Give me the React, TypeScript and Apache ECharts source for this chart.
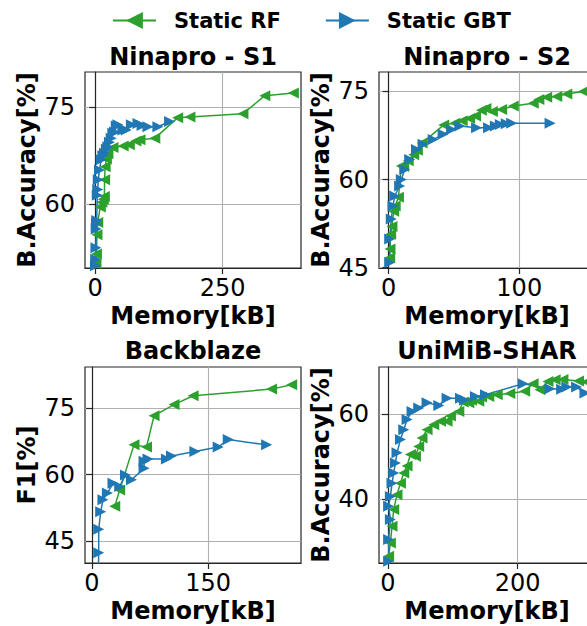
import React, { useEffect, useRef } from "react";
import * as echarts from "echarts";

// ---------- data (Memory [kB], score [%]) ----------
// Ninapro - S1
const s1RfMem = [1.5, 2.5, 3.5, 5, 10, 13, 16, 18, 18.5, 19.5, 22, 25, 35, 55, 67, 80, 88, 117, 162, 186, 290, 333, 389];
const s1RfAcc = [50.8, 52.3, 55.3, 57.2, 59.6, 60.3, 60.8, 61.2, 63.8, 65.8, 67.0, 67.8, 68.8, 69.0, 69.2, 69.8, 70.0, 70.2, 73.4, 73.5, 74.0, 76.8, 77.2];
const s1GbtMem = [0.5, 1, 1.5, 2, 2.5, 3, 4, 5, 6, 8.5, 11.8, 15, 18.3, 22, 24.8, 28, 31.4, 34.6, 38, 41.3, 44.5, 54.3, 61, 71, 84, 92, 103.5, 123, 146];
const s1GbtAcc = [50.5, 51.5, 53.3, 56.2, 57.0, 57.5, 61.4, 62.3, 63.8, 65.3, 66.9, 67.5, 67.9, 68.5, 68.9, 69.6, 70.2, 71.0, 71.2, 72.1, 72.3, 71.5, 71.5, 72.3, 72.5, 72.2, 72.0, 72.0, 72.8];

// Ninapro - S2
const s2RfMem = [0.8, 1.0, 1.5, 2.5, 3.8, 5.0, 7.5, 9.7, 11.5, 15.0, 19.2, 22.0, 25.6, 42.2, 50.6, 56.3, 62.0, 66.5, 71.0, 74.5, 79.4, 86.5, 95.4, 110.7, 115.0, 121.0, 128.7, 136.4, 149.0];
const s2RfAcc = [46.7, 48.2, 50.7, 52.0, 54.6, 55.5, 57.0, 62.3, 62.2, 63.2, 64.2, 65.0, 66.2, 69.3, 69.6, 70.0, 70.4, 70.8, 71.8, 72.1, 71.6, 71.9, 72.5, 73.0, 73.6, 74.0, 74.15, 74.55, 75.0];
const s2GbtMem = [0.8, 0.8, 2.0, 3.3, 4.6, 8.4, 9.7, 12.3, 16.1, 21.3, 26.4, 34.1, 41.7, 48.2, 54.5, 67.3, 76.5, 81.7, 85.5, 90, 94.2, 123.6];
const s2GbtAcc = [45.9, 49.9, 53.3, 55.5, 57.2, 58.9, 60.0, 61.7, 63.4, 65.1, 66.0, 66.8, 67.7, 68.5, 69.1, 68.8, 68.8, 69.1, 69.35, 69.5, 69.6, 69.6];

// Backblaze
const bbRfMem = [29.4, 35.8, 54.3, 70.4, 80.2, 106, 130.7, 232, 258];
const bbRfF1 = [52.8, 56.5, 66.7, 66.2, 73.3, 75.8, 77.8, 79.3, 80.3];
const bbGbtMem = [8, 8.7, 8.7, 11.3, 14.2, 19.9, 27.2, 35.8, 43.2, 51, 67.3, 67.3, 72.4, 96.2, 102.7, 132.9, 163, 176, 225.6];
const bbGbtF1 = [36, 42.3, 47.6, 51.6, 54.3, 55.8, 58.0, 57.3, 59.9, 58.8, 61.4, 63.0, 63.5, 63.5, 64.2, 65.2, 66.2, 67.9, 66.7];

// UniMiB-SHAR
const uniRfMem = [1, 3.7, 6.2, 8.8, 13.9, 19.2, 24.3, 29.4, 34.6, 42.3, 47.4, 52.5, 60.3, 70.6, 81, 91.2, 96.4, 109.3, 116, 124.7, 129, 140.2, 144.4, 155.6, 168.5, 188, 211, 224, 234.5, 247, 258, 270, 294, 306];
const uniRfAcc = [26.7, 29.8, 33.7, 37.6, 41.1, 43.8, 46.2, 47.8, 50.5, 50.1, 52.4, 54.4, 56.3, 57.5, 58.3, 58.3, 59.5, 60.6, 62.8, 62.6, 63.2, 63.0, 64.0, 64.1, 64.5, 64.8, 65.3, 67.1, 65.7, 67.6, 68.0, 68.05, 67.7, 67.5];
const uniGbtMem = [1, 1, 3.7, 1, 3.7, 6.2, 8.8, 11.4, 13.9, 19.2, 24.3, 29.4, 37.1, 47.4, 60.3, 78.4, 91.2, 111.9, 118, 135, 150.5, 208.7, 250, 268, 276, 291, 304];
const uniGbtAcc = [25.5, 30.6, 35.3, 38.4, 40.7, 43.8, 46.2, 48.5, 50.9, 54.0, 56.3, 58.7, 60.6, 61.4, 62.6, 62.0, 63.7, 63.7, 63.3, 64.1, 64.5, 67.1, 65.9, 65.8, 66.3, 66.3, 64.9];

// tick values
const s1XTicks = [0, 250];
const s1YTicks = [60, 75];
const s2XTicks = [0, 100];
const s2YTicks = [45, 60, 75];
const bbXTicks = [0, 150];
const bbYTicks = [45, 60, 75];
const uniXTicks = [0, 200];
const uniYTicks = [40, 60];

const SERIES_RF = "Static RF";
const SERIES_GBT = "Static GBT";

const zip = (xs: number[], ys: number[]) => xs.map((x, i) => [x, ys[i]]);

const FONT = "DejaVu Sans";
const GREEN = "#2ca02c";
const BLUE = "#1f77b4";
const SPINE = "#262626";
const GRIDC = "#b0b0b0";
const LEFT_TRI = "path://M0,5L10,0L10,10Z";
const RIGHT_TRI = "path://M10,5L0,0L0,10Z";

const PW = 216;
const PH = 196;

const panels = [
  { title: "Ninapro - S1", yName: "B.Accuracy[%]", left: 85, top: 72, titleTop: 45, x: [-20, 404], y: [50.15, 80.46], xt: s1XTicks, yt: s1YTicks, rf: zip(s1RfMem, s1RfAcc), gbt: zip(s1GbtMem, s1GbtAcc) },
  { title: "Ninapro - S2", yName: "B.Accuracy[%]", left: 379, top: 72, titleTop: 45, x: [-7.4, 158], y: [44.95, 78.3], xt: s2XTicks, yt: s2YTicks, rf: zip(s2RfMem, s2RfAcc), gbt: zip(s2GbtMem, s2GbtAcc) },
  { title: "Backblaze", yName: "F1[%]", left: 85, top: 367, titleTop: 339, x: [-9, 270], y: [40, 84.3], xt: bbXTicks, yt: bbYTicks, rf: zip(bbRfMem, bbRfF1), gbt: zip(bbGbtMem, bbGbtF1) },
  { title: "UniMiB-SHAR", yName: "B.Accuracy[%]", left: 379, top: 367, titleTop: 339, x: [-13.9, 319.5], y: [25.1, 71.0], xt: uniXTicks, yt: uniYTicks, rf: zip(uniRfMem, uniRfAcc), gbt: zip(uniGbtMem, uniGbtAcc) },
];

export default function App() {
  const ref = useRef<HTMLDivElement>(null);
  useEffect(() => {
    if (!ref.current) return;
    const chart = echarts.init(ref.current, undefined, { renderer: "svg" });
    const axisText = { fontFamily: FONT, fontSize: 24, color: "#000" };
    const nameText = { fontFamily: FONT, fontSize: 24, fontWeight: "bold" as const, color: "#000" };
    const option: any = {
      animation: false,
      backgroundColor: "#fff",
      textStyle: { fontFamily: FONT },
      title: panels.map((p) => ({
        text: p.title,
        left: p.left + PW / 2,
        top: p.titleTop,
        textAlign: "center",
        padding: 0,
        textStyle: { ...nameText },
      })),
      legend: {
        data: [SERIES_RF, SERIES_GBT],
        left: 107,
        top: 5,
        itemWidth: 43,
        itemHeight: 21,
        itemGap: 44,
        textStyle: { fontFamily: FONT, fontSize: 21, fontWeight: "bold", color: "#000", padding: [0, 0, 0, 13] },
      },
      grid: panels.map((p) => ({
        left: p.left,
        top: p.top,
        width: PW,
        height: PH,
        show: true,
        borderColor: SPINE,
        borderWidth: 1.2,
        backgroundColor: "transparent",
        containLabel: false,
        outerBoundsMode: "none",
      })),
      xAxis: panels.map((p, i) => ({
        type: "value",
        gridIndex: i,
        min: p.x[0],
        max: p.x[1],
        name: "Memory[kB]",
        nameLocation: "middle",
        nameGap: 36,
        nameTextStyle: nameText,
        axisLine: { show: true, lineStyle: { color: SPINE, width: 1.2 } },
        axisTick: { show: true, inside: false, length: 6, customValues: p.xt, lineStyle: { color: SPINE, width: 1.2 } },
        axisLabel: { ...axisText, margin: 8, customValues: p.xt },
        splitLine: { show: true, lineStyle: { color: GRIDC, width: 1.1 } },
      })),
      yAxis: panels.map((p, i) => ({
        type: "value",
        gridIndex: i,
        min: p.y[0],
        max: p.y[1],
        name: p.yName,
        nameLocation: "middle",
        nameGap: 46,
        nameTextStyle: nameText,
        axisLine: { show: true, lineStyle: { color: SPINE, width: 1.2 } },
        axisTick: { show: true, inside: false, length: 6, customValues: p.yt, lineStyle: { color: SPINE, width: 1.2 } },
        axisLabel: { ...axisText, margin: 10, customValues: p.yt },
        splitLine: { show: true, lineStyle: { color: GRIDC, width: 1.1 } },
      })),
      series: panels.flatMap((p, i) => [
        {
          name: SERIES_RF,
          type: "line",
          xAxisIndex: i,
          yAxisIndex: i,
          data: p.rf,
          symbol: LEFT_TRI,
          symbolSize: 11,
          showAllSymbol: true,
          color: GREEN,
          itemStyle: { color: GREEN },
          lineStyle: { color: GREEN, width: 1.5 },
        },
        {
          name: SERIES_GBT,
          type: "line",
          xAxisIndex: i,
          yAxisIndex: i,
          data: p.gbt,
          symbol: RIGHT_TRI,
          symbolSize: 11,
          showAllSymbol: true,
          color: BLUE,
          itemStyle: { color: BLUE },
          lineStyle: { color: BLUE, width: 1.5 },
        },
      ]),
    };
    chart.setOption(option);
    return () => chart.dispose();
  }, []);
  return (
    <div
      ref={ref}
      style={{ position: "absolute", left: 0, top: 0, width: 587, height: 626, overflow: "hidden" }}
    />
  );
}
